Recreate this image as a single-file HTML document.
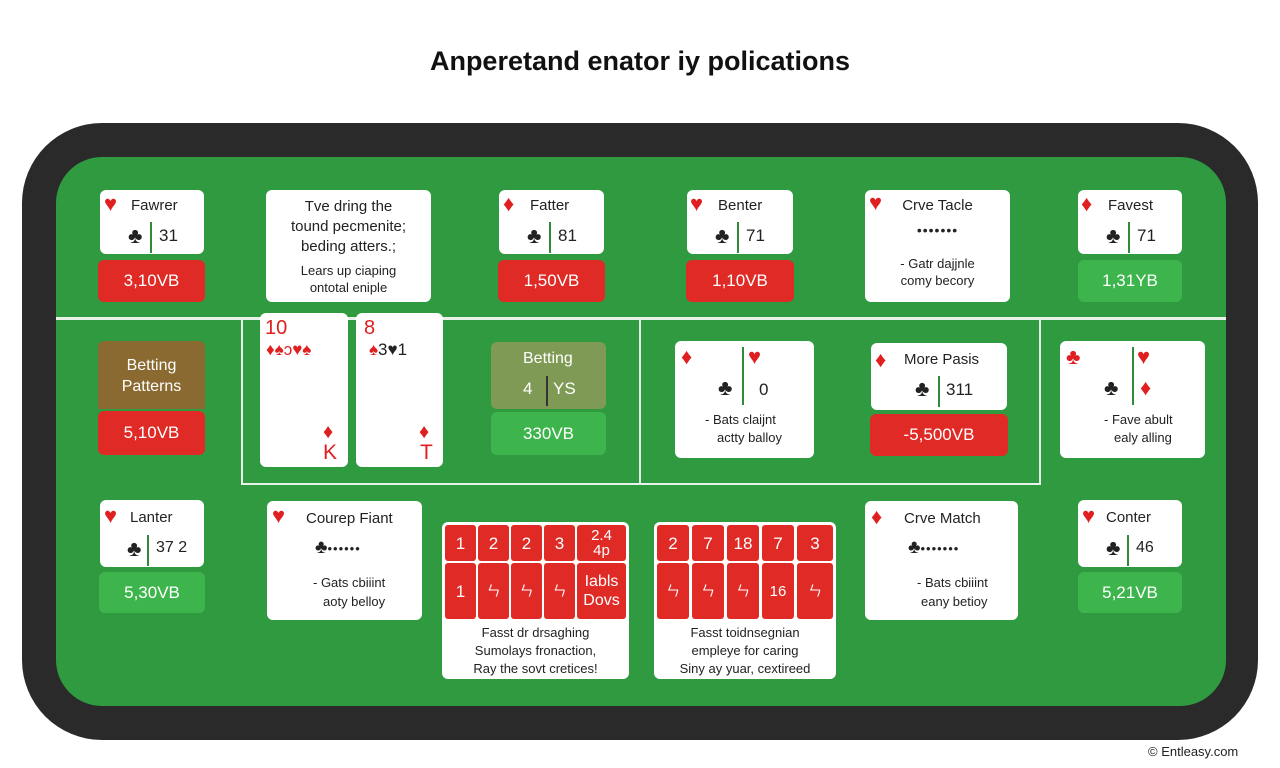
<!DOCTYPE html>
<html><head><meta charset="utf-8"><style>
*{margin:0;padding:0;box-sizing:border-box}
body{width:1280px;height:768px;background:#fff;position:relative;overflow:hidden;font-family:"Liberation Sans","DejaVu Sans",sans-serif;color:#222}
.a{position:absolute}
.outer{left:22px;top:123px;width:1236px;height:617px;background:#2a2a2a;border-radius:80px}
.green{left:56px;top:157px;width:1170px;height:549px;background:#2f9a3f;border-radius:46px}
.ln{background:#e8f2e8}
.card{position:absolute;background:#fff;border-radius:6px}
.red{position:absolute;background:#df2a26;border-radius:6px;color:#fff;font-size:17px;display:flex;align-items:center;justify-content:center}
.grn{position:absolute;background:#3db54c;border-radius:6px;color:#fff;font-size:17px;display:flex;align-items:center;justify-content:center}
.r{color:#e02020}
.t{position:absolute;font-size:15px;white-space:nowrap}
.s{font-size:22px;line-height:22px}
.vl{position:absolute;width:2px;background:#2f8a3a}
.c{text-align:center;font-size:14px;line-height:18px}
.grid{position:absolute;background:#fff;border-radius:6px}
.cell{position:absolute;background:#df2a26;border-radius:3px;color:#fff;font-size:17px;display:flex;align-items:center;justify-content:center;width:31px;height:36px;line-height:15px;text-align:center}
</style></head><body>
<div class="a" style="left:0;top:46px;width:1280px;text-align:center;font-size:27px;font-weight:bold;color:#111">Anperetand enator iy polications</div>
<div class="a" style="left:1148px;top:744px;font-size:13px;color:#222">© Entleasy.com</div>
<div class="a outer"></div>
<div class="a green"></div>
<div class="a ln" style="left:56px;top:317px;width:1170px;height:3px"></div>
<div class="a ln" style="left:241px;top:317px;width:2px;height:168px"></div>
<div class="a ln" style="left:639px;top:317px;width:2px;height:168px"></div>
<div class="a ln" style="left:1039px;top:317px;width:2px;height:168px"></div>
<div class="a ln" style="left:241px;top:483px;width:800px;height:2px"></div>

<!-- row1 -->
<div class="card" style="left:100px;top:190px;width:104px;height:64px"><span class="t r s" style="left:4px;top:3px">♥</span><span class="t" style="left:31px;top:7px">Fawrer</span><span class="t s" style="left:28px;top:35px">♣</span><div class="vl" style="left:50px;top:32px;height:31px"></div><span class="t" style="left:59px;top:36px;font-size:17px">31</span></div>
<div class="red" style="left:98px;top:260px;width:107px;height:42px">3,10VB</div>
<div class="card c" style="left:266px;top:190px;width:165px;height:112px;padding-top:7px;font-size:15px;line-height:20px">Tve dring the<br>tound pecmenite;<br>beding atters.;<div style="font-size:13px;line-height:17px;margin-top:5px">Lears up ciaping<br>ontotal eniple</div></div>
<div class="card" style="left:499px;top:190px;width:105px;height:64px"><span class="t r s" style="left:4px;top:3px">♦</span><span class="t" style="left:31px;top:7px">Fatter</span><span class="t s" style="left:28px;top:35px">♣</span><div class="vl" style="left:50px;top:32px;height:31px"></div><span class="t" style="left:59px;top:36px;font-size:17px">81</span></div>
<div class="red" style="left:498px;top:260px;width:107px;height:42px">1,50VB</div>
<div class="card" style="left:687px;top:190px;width:106px;height:64px"><span class="t r s" style="left:3px;top:3px">♥</span><span class="t" style="left:31px;top:7px">Benter</span><span class="t s" style="left:28px;top:35px">♣</span><div class="vl" style="left:50px;top:32px;height:31px"></div><span class="t" style="left:59px;top:36px;font-size:17px">71</span></div>
<div class="red" style="left:686px;top:260px;width:108px;height:42px">1,10VB</div>
<div class="card c" style="left:865px;top:190px;width:145px;height:112px"><span class="t r s" style="left:4px;top:2px">♥</span><div style="padding-top:7px;font-size:15px">Crve Tacle</div><div style="margin-top:6px;letter-spacing:1px">•••••••</div><div style="font-size:13px;line-height:17px;margin-top:16px">- Gatr dajjnle<br>comy becory</div></div>
<div class="card" style="left:1078px;top:190px;width:104px;height:64px"><span class="t r s" style="left:3px;top:3px">♦</span><span class="t" style="left:30px;top:7px">Favest</span><span class="t s" style="left:28px;top:35px">♣</span><div class="vl" style="left:50px;top:32px;height:31px"></div><span class="t" style="left:59px;top:36px;font-size:17px">71</span></div>
<div class="grn" style="left:1078px;top:260px;width:104px;height:42px">1,31YB</div>

<!-- row2 -->
<div class="a c" style="left:98px;top:341px;width:107px;height:68px;background:#8a6a30;border-radius:6px 6px 0 0;color:#fff;font-size:16px;line-height:21px;padding-top:14px">Betting<br>Patterns</div>
<div class="red" style="left:98px;top:411px;width:107px;height:44px">5,10VB</div>
<div class="card" style="left:260px;top:313px;width:88px;height:154px"><span class="t r" style="left:5px;top:4px;font-size:20px">10</span><span class="t r" style="left:6px;top:27px;font-size:17px">♦♠ɔ♥♠</span><span class="t r" style="left:63px;top:108px;font-size:20px">♦</span><span class="t r" style="left:63px;top:128px;font-size:21px">K</span></div>
<div class="card" style="left:356px;top:313px;width:87px;height:154px"><span class="t r" style="left:8px;top:4px;font-size:20px">8</span><span class="t" style="left:13px;top:27px;font-size:17px"><span class="r">♠</span>3♥1</span><span class="t r" style="left:63px;top:108px;font-size:20px">♦</span><span class="t r" style="left:64px;top:128px;font-size:21px">T</span></div>
<div class="a" style="left:491px;top:342px;width:115px;height:67px;background:#7f9a55;border-radius:6px;color:#fff"><span class="t" style="left:32px;top:8px;font-size:16px">Betting</span><span class="t" style="left:32px;top:37px;font-size:17px">4</span><div class="vl" style="left:55px;top:34px;height:30px;background:#333"></div><span class="t" style="left:62px;top:37px;font-size:17px">YS</span></div>
<div class="grn" style="left:491px;top:412px;width:115px;height:43px">330VB</div>
<div class="card" style="left:675px;top:341px;width:139px;height:117px"><span class="t r s" style="left:6px;top:5px">♦</span><span class="t r s" style="left:73px;top:5px">♥</span><div class="vl" style="left:67px;top:6px;height:58px"></div><span class="t s" style="left:43px;top:36px">♣</span><span class="t" style="left:84px;top:39px;font-size:17px">0</span><span class="t" style="left:30px;top:71px;font-size:13px">- Bats claijnt</span><span class="t" style="left:42px;top:89px;font-size:13px">actty balloy</span></div>
<div class="card" style="left:871px;top:343px;width:136px;height:67px"><span class="t r s" style="left:4px;top:6px">♦</span><span class="t" style="left:33px;top:8px">More Pasis</span><span class="t s" style="left:44px;top:35px">♣</span><div class="vl" style="left:67px;top:33px;height:31px"></div><span class="t" style="left:75px;top:37px;font-size:17px">311</span></div>
<div class="red" style="left:870px;top:414px;width:138px;height:42px">-5,500VB</div>
<div class="card" style="left:1060px;top:341px;width:145px;height:117px"><span class="t r s" style="left:6px;top:5px">♣</span><span class="t r s" style="left:77px;top:5px">♥</span><div class="vl" style="left:72px;top:6px;height:58px"></div><span class="t s" style="left:44px;top:36px">♣</span><span class="t r s" style="left:80px;top:36px">♦</span><span class="t" style="left:44px;top:71px;font-size:13px">- Fave abult</span><span class="t" style="left:54px;top:89px;font-size:13px">ealy alling</span></div>

<!-- row3 -->
<div class="card" style="left:100px;top:500px;width:104px;height:67px"><span class="t r s" style="left:4px;top:5px">♥</span><span class="t" style="left:30px;top:9px">Lanter</span><span class="t s" style="left:27px;top:38px">♣</span><div class="vl" style="left:47px;top:35px;height:31px"></div><span class="t" style="left:56px;top:39px;font-size:16px">37 2</span></div>
<div class="grn" style="left:99px;top:572px;width:106px;height:41px">5,30VB</div>
<div class="card" style="left:267px;top:501px;width:155px;height:119px"><span class="t r s" style="left:5px;top:4px">♥</span><span class="t" style="left:39px;top:9px">Courep Fiant</span><span class="t" style="left:48px;top:36px;font-size:19px">♣<span style="font-size:13px;letter-spacing:1px">••••••</span></span><span class="t" style="left:46px;top:74px;font-size:13px">- Gats cbiiint</span><span class="t" style="left:56px;top:93px;font-size:13px">aoty belloy</span></div>
<div class="grid" style="left:442px;top:522px;width:187px;height:157px">
<div class="cell" style="left:3px;top:3px">1</div><div class="cell" style="left:36px;top:3px">2</div><div class="cell" style="left:69px;top:3px">2</div><div class="cell" style="left:102px;top:3px">3</div><div class="cell" style="left:135px;top:3px;width:49px;font-size:15px">2.4<br>4p</div>
<div class="cell" style="left:3px;top:41px;height:56px">1</div><div class="cell" style="left:36px;top:41px;height:56px;font-size:14px">ㄣ</div><div class="cell" style="left:69px;top:41px;height:56px;font-size:14px">ㄣ</div><div class="cell" style="left:102px;top:41px;height:56px;font-size:14px">ㄣ</div><div class="cell" style="left:135px;top:41px;height:56px;width:49px;font-size:16px;line-height:19px">Iabls<br>Dovs</div>
<div class="a c" style="left:0;top:102px;width:187px;font-size:13px">Fasst dr drsaghing<br>Sumolays fronaction,<br>Ray the sovt cretices!</div>
</div>
<div class="grid" style="left:654px;top:522px;width:182px;height:157px">
<div class="cell" style="left:3px;top:3px;width:32px">2</div><div class="cell" style="left:38px;top:3px;width:32px">7</div><div class="cell" style="left:73px;top:3px;width:32px">18</div><div class="cell" style="left:108px;top:3px;width:32px">7</div><div class="cell" style="left:143px;top:3px;width:36px">3</div>
<div class="cell" style="left:3px;top:41px;height:56px;width:32px;font-size:14px">ㄣ</div><div class="cell" style="left:38px;top:41px;height:56px;width:32px;font-size:14px">ㄣ</div><div class="cell" style="left:73px;top:41px;height:56px;width:32px;font-size:14px">ㄣ</div><div class="cell" style="left:108px;top:41px;height:56px;width:32px;font-size:15px">16</div><div class="cell" style="left:143px;top:41px;height:56px;width:36px;font-size:14px">ㄣ</div>
<div class="a c" style="left:0;top:102px;width:182px;font-size:13px">Fasst toidnsegnian<br>empleye for caring<br>Siny ay yuar, cextireed</div>
</div>
<div class="card" style="left:865px;top:501px;width:153px;height:119px"><span class="t r s" style="left:6px;top:5px">♦</span><span class="t" style="left:39px;top:9px">Crve Match</span><span class="t" style="left:43px;top:36px;font-size:19px">♣<span style="font-size:13px;letter-spacing:1px">•••••••</span></span><span class="t" style="left:52px;top:74px;font-size:13px">- Bats cbiiint</span><span class="t" style="left:56px;top:93px;font-size:13px">eany betioy</span></div>
<div class="card" style="left:1078px;top:500px;width:104px;height:67px"><span class="t r s" style="left:4px;top:5px">♥</span><span class="t" style="left:28px;top:9px">Conter</span><span class="t s" style="left:28px;top:37px">♣</span><div class="vl" style="left:49px;top:35px;height:31px"></div><span class="t" style="left:58px;top:39px;font-size:16px">46</span></div>
<div class="grn" style="left:1078px;top:572px;width:104px;height:41px">5,21VB</div>
</body></html>
